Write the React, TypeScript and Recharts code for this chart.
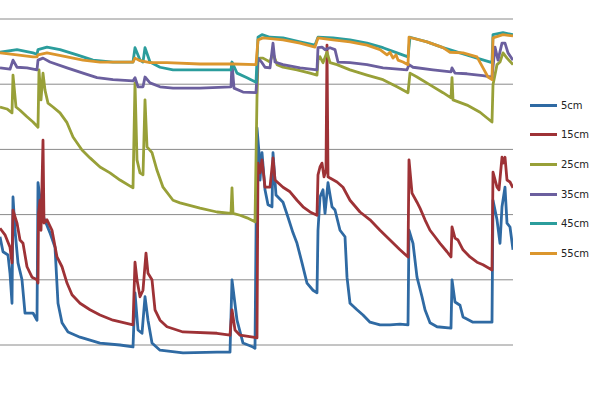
import { LineChart, Line, XAxis, YAxis, CartesianGrid } from 'recharts'

// soil moisture by depth, [day, value]
const depth5: [number, number][] = [
  [0, 16.6], [0.6, 14.3], [1.6, 13.8], [2, 11.0], [2.4, 6.4], [2.6, 22.7], [3, 17.6], [3.6, 12.6],
  [4.4, 10.0], [5, 4.9], [6.6, 4.9], [7.4, 3.8], [7.6, 24.9], [8.4, 20.2], [10, 17.2], [11, 15.0],
  [11.6, 6.4], [12.4, 3.4], [13.6, 2.0], [16, 1.2], [20, 0.3], [24, 0], [26.6, -0.3], [27, 8.0],
  [27.6, 2.3], [28.4, 1.8], [29, 7.4], [29.6, 3.8], [30.4, 0.3], [32, -0.8], [36.6, -1.2], [43.4, -1.1],
  [46, -1.1], [46.4, 10.0], [47.4, 3.8], [48.6, 0.3], [50.6, -0.3], [51, -0.5], [51.4, 33.3], [51.8, 29.5],
  [52, 25.3], [52.4, 29.5], [53, 23.8], [53.6, 21.5], [54.4, 21.2], [54.6, 29.5], [55.2, 23.0], [56.6, 21.9],
  [57.6, 19.6], [58.6, 17.2], [59.4, 15.6], [60.4, 12.6], [61.4, 9.5], [62.6, 8.4], [63.4, 8.0], [63.6, 17.6],
  [64, 22.7], [64.6, 23.8], [65, 20.2], [65.6, 24.9], [66.4, 21.2], [67, 20.7], [68, 17.6], [69, 16.6],
  [69.4, 10.4], [70, 6.4], [71.4, 5.4], [72.6, 4.6], [74, 3.5], [76, 3.1], [78, 3.1], [80, 3.2],
  [81.6, 3.1], [81.8, 17.6], [82.6, 15.6], [83.4, 10.4], [84.4, 7.4], [85, 5.4], [86, 3.4], [87.4, 2.8],
  [90.2, 2.6], [90.4, 10.0], [91, 6.6], [92, 6.1], [92.6, 4.3], [94.6, 3.5], [96.6, 3.5], [98.4, 3.5],
  [98.6, 22.2], [99.4, 19.2], [100, 15.6], [100.4, 21.2], [101, 24.2], [101.4, 18.7], [102, 18.1], [102.6, 14.6],
]

const depth15: [number, number][] = [
  [0, 17.9], [1, 16.9], [2, 15.0], [2.4, 12.6], [2.6, 20.7], [3.4, 18.7], [4, 16.1], [4.6, 15.6],
  [5.4, 12.0], [6.4, 10.4], [7.4, 10.0], [7.6, 9.5], [7.7, 20.2], [8, 22.2], [8.2, 17.6], [8.6, 31.4],
  [8.8, 18.7], [9.4, 19.2], [10.4, 17.6], [11.4, 13.5], [12.4, 12.0], [13.4, 9.5], [14.4, 7.7], [16, 6.4],
  [18, 5.4], [20, 4.6], [22.6, 3.8], [26.6, 3.1], [27, 12.7], [27.4, 10.0], [28, 7.4], [28.6, 8.4],
  [29.2, 14.1], [29.6, 11.0], [30.4, 10.0], [31, 5.4], [32, 3.8], [33.4, 2.8], [36.6, 2.0], [43.4, 1.8],
  [46, 1.5], [46.4, 5.4], [47, 2.3], [48, 1.5], [50.6, 1.2], [51.4, 1.1], [51.6, 27.9], [52, 26.4],
  [52.4, 28.4], [53, 24.2], [54, 24.2], [54.6, 28.7], [55, 25.3], [56.6, 24.2], [58, 23.5], [59.4, 22.2],
  [60.6, 21.2], [62, 20.4], [63.4, 19.9], [63.6, 26.1], [64, 27.3], [64.4, 27.9], [64.8, 25.8], [65.2, 26.8],
  [65.4, 46.0], [65.6, 25.8], [66, 25.6], [67.4, 25.0], [68.6, 24.2], [70, 22.2], [72, 20.4], [74, 19.2],
  [76, 17.6], [78, 16.1], [80, 14.6], [81.6, 13.5], [81.8, 28.4], [82.4, 23.3], [83.4, 21.9], [84, 21.0],
  [85, 19.2], [86, 17.6], [87, 16.6], [88, 15.6], [89.4, 14.3], [90.2, 13.5], [90.4, 18.1], [91, 16.4],
  [91.6, 16.1], [92.6, 14.6], [94, 13.5], [95.4, 12.7], [96.6, 12.3], [98.4, 11.5], [98.6, 26.5], [99.4, 24.2],
  [99.8, 23.8], [100.4, 28.8], [100.6, 27.9], [101, 28.8], [101.4, 25.3], [102, 25.0], [102.6, 24.1],
]

const depth25: [number, number][] = [
  [0, 36.5], [1.4, 36.2], [2.4, 35.6], [2.6, 41.4], [3.2, 36.5], [4, 36.0], [5.4, 35.0], [6.6, 34.2],
  [7.6, 33.4], [7.8, 42.2], [8.2, 37.6], [8.6, 41.7], [9, 39.1], [9.6, 37.1], [10.6, 36.5], [12, 35.6],
  [13.4, 34.1], [14.6, 31.9], [16.4, 29.9], [18, 28.7], [20, 27.3], [22, 26.4], [24, 25.3], [26.6, 24.1],
  [27, 40.2], [27.4, 28.4], [28, 26.4], [28.6, 26.1], [29, 37.6], [29.4, 30.4], [30.4, 29.5], [31.4, 26.8],
  [32.6, 24.2], [34.6, 22.2], [36, 21.8], [40, 21.0], [43.4, 20.4], [46.2, 20.2], [46.4, 24.1], [46.6, 20.2],
  [48, 19.9], [49.4, 19.5], [51, 18.9], [51.4, 38.0], [51.6, 43.7], [52, 44.0], [52.6, 44.0], [54, 43.4],
  [54.6, 44.8], [55.4, 43.0], [56.6, 42.6], [59.4, 42.2], [62, 41.7], [63.4, 41.4], [63.6, 43.7], [64, 44.2],
  [64.6, 43.3], [65.4, 44.9], [66, 43.3], [67.4, 43.0], [70, 42.2], [73.4, 41.4], [76.6, 40.7], [79.4, 39.6],
  [81.6, 38.7], [82, 41.7], [83.4, 41.1], [86, 39.9], [88.6, 38.7], [90.2, 37.9], [90.4, 41.0], [90.6, 37.6],
  [93.4, 36.8], [96, 35.7], [98.4, 34.2], [98.6, 39.9], [99.4, 43.0], [100, 43.4], [100.6, 44.8], [101.4, 44.0],
  [102.6, 43.0],
]

const depth35: [number, number][] = [
  [0, 42.5], [2, 42.3], [2.6, 43.7], [3.4, 42.6], [5.4, 42.5], [7.4, 42.2], [7.6, 43.7], [8.6, 44.0],
  [10, 43.4], [13.4, 42.5], [16.6, 41.7], [19.4, 41.0], [22.6, 40.7], [26.6, 40.5], [27, 41.0], [27.6, 39.6],
  [28.6, 39.6], [29, 41.1], [30, 40.2], [32, 39.6], [34.6, 39.4], [40, 39.4], [46.2, 39.6], [46.4, 43.3],
  [46.8, 39.4], [48.6, 38.8], [51.2, 38.7], [51.6, 44.0], [52.4, 43.3], [53, 42.6], [54, 42.5], [54.6, 46.3],
  [55, 43.4], [56.6, 43.0], [60, 42.5], [63.4, 42.2], [63.6, 45.6], [64.4, 45.7], [65, 45.3], [66, 45.6],
  [67, 45.3], [67.6, 43.4], [70, 43.3], [73.4, 43.0], [76.6, 42.5], [81.4, 42.2], [81.8, 43.0], [82.6, 42.6],
  [86.6, 42.2], [90.2, 41.9], [90.4, 42.5], [91, 41.7], [93.4, 41.6], [96.6, 41.3], [98.4, 41.1], [99, 45.7],
  [99.6, 43.7], [100.4, 46.3], [101, 46.3], [101.6, 44.8], [102.6, 43.7],
]

const depth45: [number, number][] = [
  [0, 44.9], [3.4, 45.3], [6.6, 44.8], [7.4, 44.6], [7.6, 45.3], [9.4, 45.7], [12, 45.3], [15.4, 44.5],
  [18.6, 43.7], [22.6, 43.4], [26.6, 43.4], [27, 45.6], [28, 43.7], [28.6, 43.4], [29, 45.6], [30, 43.4],
  [32, 42.6], [34.6, 42.2], [40, 42.2], [46.2, 42.2], [46.4, 43.4], [47.4, 41.7], [49.4, 41.0], [51.2, 40.3],
  [51.6, 47.2], [52.4, 47.6], [54, 47.2], [56.6, 47.1], [60, 46.5], [63, 46.0], [63.6, 47.2], [66.6, 47.1],
  [70, 46.8], [73.4, 46.3], [76.6, 45.6], [79.4, 44.8], [81.6, 44.2], [82, 47.2], [85.4, 46.5], [88.6, 45.6],
  [92, 44.8], [95.4, 44.0], [98.4, 43.3], [98.6, 47.6], [100.6, 47.9], [102.6, 47.6],
]

const depth55: [number, number][] = [
  [0, 44.8], [3.4, 44.5], [6.6, 44.2], [7.4, 44.2], [7.6, 44.5], [9.4, 44.8], [13.4, 44.2], [16.6, 43.7],
  [20, 43.4], [26.6, 43.4], [27, 44.0], [28, 43.6], [30, 43.3], [33.4, 43.3], [40, 43.1], [46.6, 43.1],
  [51.2, 43.0], [51.6, 46.8], [52.6, 47.1], [56.6, 46.8], [60, 46.3], [63, 45.7], [63.6, 47.1], [66.6, 46.8],
  [70, 46.5], [73.4, 46.0], [76, 45.3], [77.4, 44.5], [78, 44.9], [78.6, 44.0], [79.2, 44.5], [79.6, 43.7],
  [80.6, 43.4], [81.6, 43.0], [81.8, 47.2], [85.4, 46.5], [88.6, 45.6], [90, 44.9], [92.6, 44.8], [95.4, 44.2],
  [96.6, 42.5], [97.6, 41.1], [98.4, 40.7], [98.6, 47.1], [100.6, 47.6], [102.6, 47.4],
]

const gridTicks = [0, 10, 20, 30, 40, 50]

const series = [
  { name: '5cm', color: '#2F6AA3', points: depth5 },
  { name: '15cm', color: '#9E3236', points: depth15 },
  { name: '25cm', color: '#98A038', points: depth25 },
  { name: '35cm', color: '#6B5F9E', points: depth35 },
  { name: '45cm', color: '#2B9D9C', points: depth45 },
  { name: '55cm', color: '#DB962D', points: depth55 },
]

export default function App() {
  return (
    <div style={{ position: 'absolute', left: 0, top: 0, width: 603, height: 400 }}>
      <LineChart width={603} height={400} margin={{ top: 19, right: 90, bottom: 22.4, left: 0 }}>
        <CartesianGrid vertical={false} stroke="#8a8a8a" horizontalValues={gridTicks} syncWithTicks={false} />
        <XAxis type="number" dataKey="day" domain={[0, 102.6]} hide allowDataOverflow />
        <YAxis type="number" domain={[-5, 50]} ticks={gridTicks} hide allowDataOverflow />
        {series.map(s => (
          <Line key={s.name} data={s.points.map(([day, v]) => ({ day, v }))} dataKey="v" name={s.name}
            type="linear" stroke={s.color} strokeWidth={2.8} dot={false} strokeLinejoin="round"
            isAnimationActive={false} />
        ))}
      </LineChart>
      <div style={{ position: 'absolute', left: 530, top: 90.5, fontFamily: 'DejaVu Sans, sans-serif', fontSize: 10 }}>
        {series.map(s => (
          <div key={s.name} style={{ display: 'flex', alignItems: 'center', height: 29.6 }}>
            <span style={{ display: 'inline-block', width: 27, height: 3, background: s.color, marginRight: 4 }} />
            <span style={{ color: '#222' }}>{s.name}</span>
          </div>
        ))}
      </div>
    </div>
  )
}
